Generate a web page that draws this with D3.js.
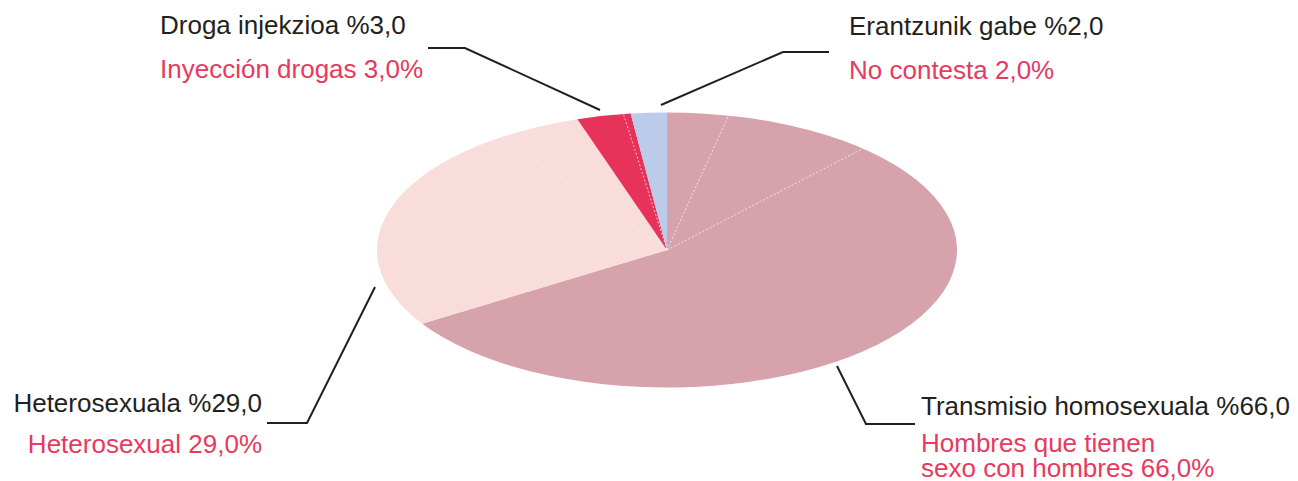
<!DOCTYPE html>
<html>
<head>
<meta charset="utf-8">
<script src="https://cdn.jsdelivr.net/npm/d3@7"></script>
<style>
  html, body { margin: 0; padding: 0; background: #fff; }
  svg { display: block; }
  text { font-family: Arial, "Liberation Sans", Helvetica, sans-serif; }
</style>
</head>
<body>
<svg id="chart" width="1298" height="481"></svg>
<script>
// ---- data ----
const categoriesEu = ["Transmisio homosexuala %66,0", "Heterosexuala %29,0", "Droga injekzioa %3,0", "Erantzunik gabe %2,0"];
const categoriesEs = [["Hombres que tienen", "sexo con hombres 66,0%"], ["Heterosexual 29,0%"], ["Inyección drogas 3,0%"], ["No contesta 2,0%"]];
const values = [66, 29, 3, 2];
const colors = ["#d6a2ac", "#f9dddb", "#e7335a", "#baccea"];
// faint internal divisions (cumulative %) visible inside slices
const dividers = [3.4, 11.8, 90.3, 97.6];

// ---- layout ----
const svg = d3.select("#chart");
const cx = 667, cy = 250, rx = 290, ry = 137.5;
const sy = ry / rx;

const pie = d3.pie().sort(null).value(d => d).startAngle(0).endAngle(2 * Math.PI);
const arcs = pie(values);
const arc = d3.arc().innerRadius(0).outerRadius(rx);

const g = svg.append("g").attr("transform", `translate(${cx},${cy}) scale(1,${sy})`);
g.selectAll("path.slice").data(arcs).join("path")
  .attr("class", "slice")
  .attr("d", arc)
  .attr("fill", (d, i) => colors[i]);

const angleScale = d3.scaleLinear().domain([0, 100]).range([0, 2 * Math.PI]);
g.selectAll("line.div").data(dividers).join("line")
  .attr("class", "div")
  .attr("x1", 0).attr("y1", 0)
  .attr("x2", d => rx * Math.sin(angleScale(d)))
  .attr("y2", d => -rx * Math.cos(angleScale(d)))
  .attr("stroke", "#fff")
  .attr("stroke-opacity", (d, i) => i === 2 ? 0.35 : 0.7)
  .attr("stroke-width", 1)
  .attr("stroke-dasharray", "2,2")
  .attr("vector-effect", "non-scaling-stroke");

// ---- leader lines ----
const leaders = [
  [[837, 366], [866, 424], [915, 424]],
  [[375, 287], [307, 423], [267, 423]],
  [[600, 110], [465, 48], [428, 48]],
  [[661, 105], [783, 52], [829, 52]]
];
const line = d3.line();
svg.selectAll("path.leader").data(leaders).join("path")
  .attr("class", "leader")
  .attr("d", line)
  .attr("fill", "none")
  .attr("stroke", "#231f20")
  .attr("stroke-width", 2);

// ---- labels ----
const labelPos = [
  { x: 921, y: 415, anchor: "start", ry: 452, lh: 25 },
  { x: 262, y: 412, anchor: "end", ry: 453, lh: 25 },
  { x: 160, y: 34, anchor: "start", ry: 78, lh: 25 },
  { x: 849, y: 35, anchor: "start", ry: 79, lh: 25 }
];
const fs = 26;
categoriesEu.forEach((t, i) => {
  const p = labelPos[i];
  svg.append("text")
    .attr("x", p.x).attr("y", p.y)
    .attr("text-anchor", p.anchor)
    .attr("font-size", fs)
    .attr("fill", "#231f20")
    .text(t);
  categoriesEs[i].forEach((s, j) => {
    svg.append("text")
      .attr("x", p.x).attr("y", p.ry + j * p.lh)
      .attr("text-anchor", p.anchor)
      .attr("font-size", fs)
      .attr("fill", "#e8395e")
      .text(s);
  });
});
</script>
</body>
</html>
